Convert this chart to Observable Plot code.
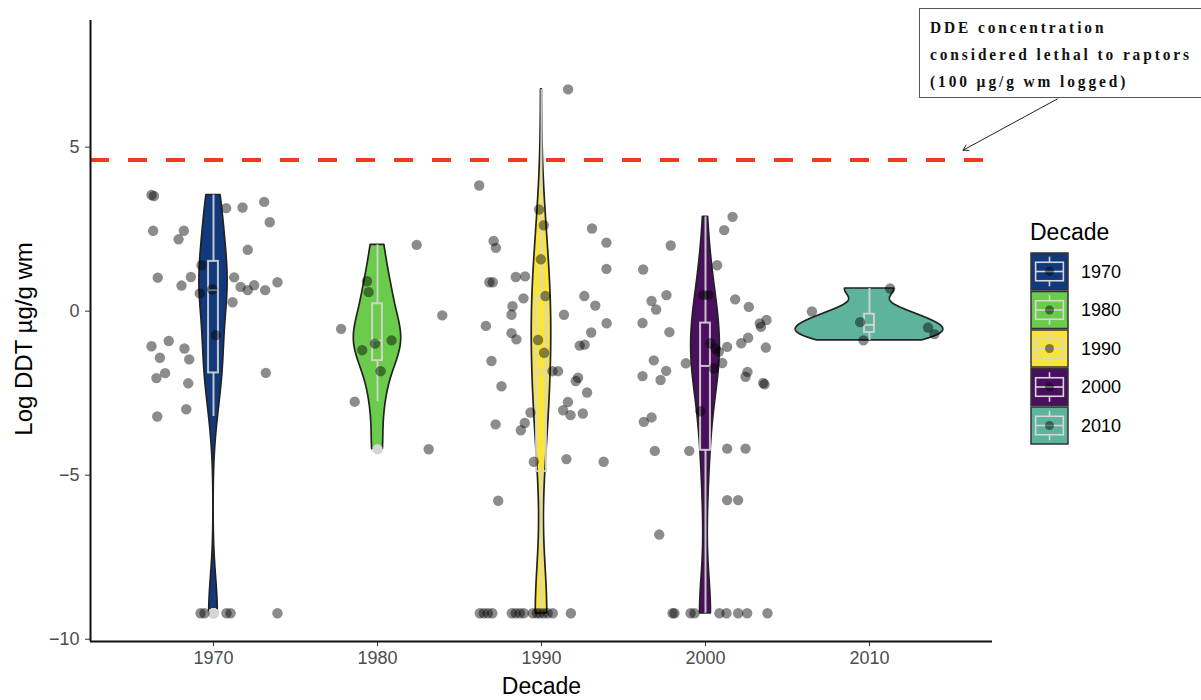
<!DOCTYPE html>
<html>
<head>
<meta charset="utf-8">
<script src="https://cdn.jsdelivr.net/npm/d3@7"></script>
<script src="https://cdn.jsdelivr.net/npm/@observablehq/plot@0.6"></script>
<style>
  html, body { margin: 0; padding: 0; background: #fff; }
  #wrap { position: relative; width: 1201px; height: 700px; overflow: hidden; font-family: "Liberation Sans", Arial, sans-serif; }
  #chart svg { display: block; }
  g[aria-label="x-axis tick label"], g[aria-label="y-axis tick label"] { fill: #4d4d4d; }
  g[aria-label="x-axis tick"], g[aria-label="y-axis tick"] { stroke: #333; }
  #note {
    position: absolute; left: 919px; top: 8px; width: 300px; height: 90px;
    border: 1px solid #555; background: #fff; box-sizing: border-box;
    font-family: "Liberation Serif", "Times New Roman", serif; font-weight: bold;
    font-size: 17.5px; letter-spacing: 3.3px; line-height: 27px; color: #111;
    padding: 5px 0 0 10px; white-space: nowrap;
  }
  #note div { transform: scaleX(0.88); transform-origin: 0 0; }
  #legend { position: absolute; left: 1020px; top: 210px; }
</style>
</head>
<body>
<div id="wrap">
  <div id="chart"></div>
  <div id="note"></div>
  <div id="legend"></div>
</div>
<script>
// Decades and their fill colours
const decades = [1970, 1980, 1990, 2000, 2010];
const decadeColors = ["#12397b", "#6bcb4b", "#f8e43a", "#4b0f5f", "#5db39b"];

// Log-scale threshold: 100 µg/g wm considered lethal to raptors
const LETHAL = Math.log(100);
// Samples below detection (logged)
const ND = -9.21;

// Observations per decade: [jittered decade position, log DDT µg/g wm]
const obs1970 = [
  [1966.22, 3.54], [1966.37, 3.51], [1970.77, 3.14], [1971.77, 3.16], [1973.09, 3.33],
  [1966.32, 2.45], [1968.19, 2.45], [1967.87, 2.19], [1973.43, 2.71], [1972.09, 1.87],
  [1969.27, 1.40], [1966.60, 1.02], [1968.62, 1.04], [1968.05, 0.78], [1971.26, 1.03],
  [1971.65, 0.74], [1972.09, 0.64], [1972.48, 0.79], [1973.15, 0.64], [1973.90, 0.88],
  [1969.16, 0.54], [1969.92, 0.66], [1971.16, 0.27], [1970.14, -0.73], [1967.27, -0.91],
  [1966.22, -1.07], [1968.23, -1.14], [1966.73, -1.42], [1968.52, -1.47], [1967.05, -1.89],
  [1966.52, -2.04], [1973.19, -1.88], [1968.46, -2.20], [1968.34, -2.99], [1966.57, -3.21],
  [1969.21, ND], [1969.45, ND], [1970.79, ND], [1971.04, ND], [1973.90, ND]
];
const obs1980 = [
  [1982.39, 2.02], [1979.36, 0.91], [1979.46, 0.58], [1983.95, -0.13], [1977.78, -0.54],
  [1979.85, -0.99], [1980.86, -0.89], [1979.07, -1.19], [1980.19, -1.83], [1978.61, -2.76],
  [1983.12, -4.21]
];
const obs1990 = [
  [1991.62, 6.76], [1986.20, 3.83], [1989.85, 3.10], [1990.14, 2.62], [1993.08, 2.52],
  [1993.96, 2.09], [1987.08, 2.14], [1987.22, 1.93], [1989.96, 1.58], [1993.96, 1.29],
  [1986.82, 0.88], [1987.03, 0.88], [1988.43, 1.04], [1989.00, 1.06], [1990.24, 0.46],
  [1988.90, 0.39], [1992.61, 0.46], [1993.28, 0.17], [1988.23, 0.15], [1988.17, -0.11],
  [1991.37, -0.11], [1993.97, -0.37], [1986.61, -0.45], [1988.17, -0.67], [1988.47, -0.86],
  [1993.03, -0.65], [1989.79, -0.88], [1992.33, -1.05], [1992.63, -1.02], [1990.16, -1.27],
  [1986.95, -1.52], [1990.67, -1.83], [1991.01, -1.83], [1987.56, -2.29], [1992.23, -2.03],
  [1992.09, -2.13], [1992.78, -2.48], [1991.61, -2.77], [1991.32, -3.02], [1991.77, -3.17],
  [1992.52, -3.12], [1989.33, -3.09], [1988.98, -3.41], [1988.74, -3.63], [1987.20, -3.45],
  [1989.53, -4.59], [1991.52, -4.51], [1993.79, -4.59], [1987.36, -5.78],
  [1986.24, ND], [1986.48, ND], [1986.73, ND], [1987.00, ND], [1988.19, ND],
  [1988.43, ND], [1988.68, ND], [1988.92, ND], [1989.47, ND], [1989.71, ND],
  [1989.90, ND], [1990.14, ND], [1990.38, ND], [1990.69, ND], [1991.79, ND]
];
const obs2000 = [
  [2001.65, 2.875], [2001.14, 2.47], [1997.88, 2.00], [1996.20, 1.27], [2000.71, 1.40],
  [1999.88, 0.49], [2000.18, 0.49], [1997.62, 0.49], [1996.71, 0.31], [1996.99, 0.05],
  [2001.81, 0.36], [2002.64, 0.13], [1996.16, -0.36], [1997.80, -0.64], [2003.31, -0.375],
  [2003.38, -0.48], [2003.72, -0.27], [2003.68, -1.11], [2002.60, -0.81], [2002.18, -0.98],
  [2001.32, -1.09], [2000.30, -0.98], [2000.61, -1.14], [2000.81, -1.24], [2000.51, -1.75],
  [2001.02, -1.58], [1998.80, -1.59], [1996.85, -1.50], [1996.16, -1.98], [1997.26, -2.10],
  [1997.60, -1.82], [2002.56, -1.85], [2002.44, -2.00], [2003.52, -2.19], [2003.60, -2.23],
  [1999.70, -3.05], [1996.24, -3.375], [1996.71, -3.24], [1996.91, -4.26], [1999.01, -4.26],
  [2001.32, -4.19], [2002.44, -4.19], [2001.32, -5.76], [2001.99, -5.76], [1997.18, -6.81],
  [1997.99, ND], [1998.11, ND], [1999.09, ND], [1999.33, ND], [2000.85, ND],
  [2001.28, ND], [2001.99, ND], [2002.54, ND], [2003.78, ND]
];
const obs2010 = [
  [2006.49, -0.01], [2011.26, 0.69], [2009.43, -0.335], [2009.63, -0.89], [2013.57, -0.50],
  [2013.96, -0.70]
];
const observations = [obs1970, obs1980, obs1990, obs2000, obs2010];

// Axis ticks and frame
const xDomain = [1962.5, 2017.5];
const yDomain = [-10.07, 8.86];
const yTicks = [-10, -5, 0, 5];

const points = observations.flatMap((obs, i) =>
  obs.map(([x, y]) => ({decade: decades[i], x, y})));

// Violin: gaussian kernel density with Silverman's rule (bw.nrd0), trimmed to data range
function bandwidth(sorted) {
  const sd = d3.deviation(sorted);
  const iqr = d3.quantileSorted(sorted, 0.75) - d3.quantileSorted(sorted, 0.25);
  return 0.9 * Math.min(sd, iqr / 1.34) * Math.pow(sorted.length, -0.2);
}
const groups = observations.map((obs, i) => {
  const ys = obs.map(d => d[1]).sort(d3.ascending);
  const bw = bandwidth(ys);
  const [lo, hi] = d3.extent(ys);
  const grid = d3.range(512).map(k => lo + (hi - lo) * k / 511);
  const dens = grid.map(g => d3.sum(ys, v => Math.exp(-0.5 * ((g - v) / bw) ** 2)) / (ys.length * bw * Math.sqrt(2 * Math.PI)));
  const q1 = d3.quantileSorted(ys, 0.25), med = d3.quantileSorted(ys, 0.5), q3 = d3.quantileSorted(ys, 0.75);
  const iqr = q3 - q1;
  const inside = ys.filter(v => v >= q1 - 1.5 * iqr && v <= q3 + 1.5 * iqr);
  return {
    decade: decades[i], grid, dens, q1, med, q3,
    whiskerLo: d3.min(inside), whiskerHi: d3.max(inside),
    outliers: ys.filter(v => v < q1 - 1.5 * iqr || v > q3 + 1.5 * iqr)
  };
});
const maxDens = d3.max(groups, g => d3.max(g.dens));
const VIOLIN_HALF = 4.5; // 0.9 of the decade spacing, halved
const violinRows = groups.flatMap(g => g.grid.map((y, k) => ({
  decade: g.decade, y,
  x1: g.decade - VIOLIN_HALF * g.dens[k] / maxDens,
  x2: g.decade + VIOLIN_HALF * g.dens[k] / maxDens
})));
const BOX_HALF = 0.3;
const outlierRows = groups.flatMap(g => g.outliers.map(y => ({decade: g.decade, y})));
const BOX_GRAY = "#d6d6d6";

const plot = Plot.plot({
  width: 1201, height: 700,
  marginLeft: 90, marginRight: 209, marginTop: 20, marginBottom: 59,
  style: {fontFamily: "'Liberation Sans', Arial, sans-serif", background: "transparent"},
  x: {domain: xDomain},
  y: {domain: yDomain},
  color: {type: "ordinal", domain: decades, range: decadeColors},
  marks: [
    Plot.ruleY([LETHAL], {stroke: "#ee3a1e", strokeWidth: 4, strokeDasharray: "19,19"}),
    Plot.areaX(violinRows, {y: "y", x1: "x1", x2: "x2", z: "decade", fill: "decade", stroke: "#222", strokeWidth: 1.7}),
    Plot.ruleX(groups, {x: "decade", y1: "q3", y2: "whiskerHi", stroke: BOX_GRAY, strokeWidth: 2, strokeOpacity: 0.9}),
    Plot.ruleX(groups, {x: "decade", y1: "q1", y2: "whiskerLo", stroke: BOX_GRAY, strokeWidth: 2, strokeOpacity: 0.9}),
    Plot.rect(groups, {x1: d => d.decade - BOX_HALF, x2: d => d.decade + BOX_HALF, y1: "q1", y2: "q3", fill: "none", stroke: BOX_GRAY, strokeWidth: 2, strokeOpacity: 0.9}),
    Plot.ruleY(groups, {y: "med", x1: d => d.decade - BOX_HALF, x2: d => d.decade + BOX_HALF, stroke: BOX_GRAY, strokeWidth: 2, strokeOpacity: 0.9}),
    Plot.dot(outlierRows, {x: "decade", y: "y", r: 5.2, fill: BOX_GRAY, stroke: "none"}),
    Plot.dot(points, {x: "x", y: "y", r: 5.2, fill: "black", fillOpacity: 0.45, stroke: "none"}),
    Plot.axisX({ticks: decades, tickFormat: d => String(d), tickSize: 5, tickPadding: 5, fontSize: 18, label: null}),
    Plot.axisY({ticks: yTicks, tickSize: 5, tickPadding: 6, fontSize: 18, label: null}),
    Plot.ruleX([xDomain[0]], {stroke: "#111", strokeWidth: 2}),
    Plot.ruleY([yDomain[0]], {stroke: "#111", strokeWidth: 2}),
    Plot.text(["Decade"], {frameAnchor: "bottom", dy: 52, fontSize: 23, fill: "#000"}),
    Plot.text(["Log DDT µg/g wm"], {frameAnchor: "left", textAnchor: "middle", dx: -66, dy: 8, rotate: -90, fontSize: 24, fill: "#000", style: {letterSpacing: "2px"}}),
    Plot.arrow([{x1: 2021.46, y1: 6.47, x2: 2015.7, y2: LETHAL + 0.3}], {x1: "x1", y1: "y1", x2: "x2", y2: "y2", stroke: "#222", strokeWidth: 1, headLength: 9})
  ]
});
document.getElementById("chart").appendChild(plot);

// Annotation box
const noteLines = ["DDE concentration", "considered lethal to raptors", "(100 µg/g wm logged)"];
d3.select("#note").selectAll("div").data(noteLines).join("div").text(d => d);

// Legend: violin fill, boxplot glyph and point for each decade
const KEY = 37, STEP = 38.5;
const leg = d3.select("#legend").append("svg").attr("width", 181).attr("height", 240)
  .style("font-family", "'Liberation Sans', Arial, sans-serif");
leg.append("text").attr("x", 10).attr("y", 30).attr("font-size", 23).attr("fill", "#000").text("Decade");
const key = leg.selectAll("g.key").data(decades).join("g").attr("class", "key")
  .attr("transform", (d, i) => `translate(11,${43 + i * STEP})`);
key.append("rect").attr("width", KEY).attr("height", KEY)
  .attr("fill", (d, i) => decadeColors[i]).attr("stroke", "#333").attr("stroke-width", 1.5);
key.append("line").attr("x1", KEY / 2).attr("x2", KEY / 2).attr("y1", KEY * 0.1).attr("y2", KEY * 0.25)
  .attr("stroke", BOX_GRAY).attr("stroke-width", 1.6);
key.append("line").attr("x1", KEY / 2).attr("x2", KEY / 2).attr("y1", KEY * 0.75).attr("y2", KEY * 0.9)
  .attr("stroke", BOX_GRAY).attr("stroke-width", 1.6);
key.append("rect").attr("x", KEY * 0.125).attr("y", KEY * 0.25).attr("width", KEY * 0.75).attr("height", KEY * 0.5)
  .attr("fill", "none").attr("stroke", BOX_GRAY).attr("stroke-width", 1.6);
key.append("line").attr("x1", KEY * 0.125).attr("x2", KEY * 0.875).attr("y1", KEY / 2).attr("y2", KEY / 2)
  .attr("stroke", BOX_GRAY).attr("stroke-width", 1.6);
key.append("circle").attr("cx", KEY / 2).attr("cy", KEY / 2).attr("r", 4.5).attr("fill", "black").attr("fill-opacity", 0.45);
key.append("text").attr("x", KEY + 13).attr("y", KEY / 2).attr("dy", "0.35em")
  .attr("font-size", 18).attr("fill", "#000").text(d => d);
</script>
</body>
</html>
